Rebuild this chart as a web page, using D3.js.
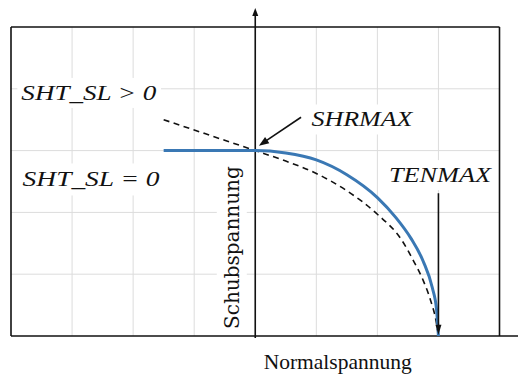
<!DOCTYPE html>
<html>
<head>
<meta charset="utf-8">
<script src="https://cdn.jsdelivr.net/npm/d3@7"></script>
<style>
  html, body { margin: 0; padding: 0; background: #fff; }
  svg { display: block; }
</style>
</head>
<body>
<svg id="chart" width="518" height="378"></svg>
<script>
// Grid divisions (normal stress on x, shear stress on y, arbitrary units)
const gridX = [-4, -3, -2, -1, 0, 1, 2, 3, 4];
const gridY = [0, 1, 2, 3, 4, 5];

// Failure surface with SHT_SL = 0 (flat shear plateau, then elliptic drop to TENMAX)
const flatX = [-1.5, 0, 0.5, 1.0, 1.5, 2.0, 2.3, 2.55, 2.75, 2.9, 2.97, 3.0];
const flatY = [3.0, 3.0, 2.96, 2.85, 2.61, 2.24, 1.92, 1.58, 1.21, 0.78, 0.42, 0];

// Failure surface with SHT_SL > 0 (shear strength rises under compression)
const slopeX = [-1.5, -0.75, 0, 0.5, 1.0, 1.5, 2.0, 2.4, 2.6, 2.75, 2.88, 2.96, 3.0];
const slopeY = [3.5, 3.25, 3.0, 2.83, 2.63, 2.35, 1.97, 1.55, 1.2, 0.9, 0.55, 0.25, 0];

// Annotation texts
const noteText = ["SHT_SL > 0", "SHT_SL = 0", "SHRMAX", "TENMAX"];
const xTitle = "Normalspannung";
const yTitle = "Schubspannung";

const svg = d3.select("#chart");
const W = 518, H = 378;

const x = d3.scaleLinear().domain([-4, 4]).range([11, 499.5]);
const y = d3.scaleLinear().domain([0, 5]).range([336, 27]);

svg.append("rect").attr("width", W).attr("height", H).attr("fill", "#fff");

// Grid
const grid = svg.append("g").attr("stroke", "#dcdcdc").attr("stroke-width", 1);
grid.selectAll("line.v").data(gridX.slice(1, -1)).join("line")
  .attr("class", "v")
  .attr("x1", d => x(d)).attr("x2", d => x(d))
  .attr("y1", y(5)).attr("y2", y(0));
grid.selectAll("line.h").data(gridY.slice(1, -1)).join("line")
  .attr("class", "h")
  .attr("x1", x(-4)).attr("x2", x(4))
  .attr("y1", d => y(d)).attr("y2", d => y(d));

// Text with an opaque white box behind it
function boxedText(parent, str, opts) {
  const g = parent.append("g").attr("transform", opts.transform || null);
  const rect = g.append("rect").attr("fill", "#fff");
  const t = g.append("text")
    .attr("x", opts.x).attr("y", opts.y)
    .attr("font-family", opts.family)
    .attr("font-style", opts.style || "normal")
    .attr("font-size", opts.size)
    .attr("text-anchor", opts.anchor || "start")
    .attr("fill", "#111")
    .text(str);
  if (opts.width) {
    t.attr("textLength", opts.width).attr("lengthAdjust", "spacingAndGlyphs");
  }
  const b = t.node().getBBox();
  const px = opts.padX ?? 3, py = opts.padY ?? 2;
  rect.attr("x", b.x - px).attr("y", b.y - py)
    .attr("width", b.width + 2 * px).attr("height", b.height + 2 * py);
  return g;
}

const mathFont = "'Liberation Serif', 'Times New Roman', serif";
const labels = svg.append("g");
boxedText(labels, noteText[0], { x: x(-3.83), y: y(3.82), family: mathFont, style: "italic", size: 21, width: 135, padX: 4, padY: 3 });
boxedText(labels, noteText[1], { x: x(-3.81), y: y(2.42), family: mathFont, style: "italic", size: 21, width: 137, padX: 4, padY: 4 });
boxedText(labels, noteText[2], { x: x(0.92), y: y(3.39), family: mathFont, style: "italic", size: 21, width: 101, padX: 4, padY: 3 });
boxedText(labels, noteText[3], { x: x(2.19), y: y(2.49), family: mathFont, style: "italic", size: 21, width: 102, padX: 4, padY: 3 });

// Axis titles
boxedText(labels, yTitle, {
  x: 0, y: 0, family: "'DejaVu Serif', serif", size: 20, anchor: "middle", padX: 4, padY: 3,
  transform: `translate(${x(-0.27)},${y(1.43)}) rotate(-90)`
});
svg.append("text")
  .attr("x", x(1.35)).attr("y", 369)
  .attr("text-anchor", "middle")
  .attr("font-family", "'Liberation Serif', 'Times New Roman', serif")
  .attr("font-size", 21.5)
  .attr("fill", "#111")
  .text(xTitle);

// Frame and axes
const frame = svg.append("g").attr("stroke", "#111").attr("stroke-width", 1.6).attr("fill", "none");
frame.append("line").attr("x1", x(-4)).attr("x2", x(4)).attr("y1", y(5)).attr("y2", y(5));
frame.append("line").attr("x1", x(-4)).attr("x2", x(-4)).attr("y1", y(5)).attr("y2", y(0));
frame.append("line").attr("x1", x(4)).attr("x2", x(4)).attr("y1", y(5)).attr("y2", y(0));
frame.append("line").attr("x1", x(-4)).attr("x2", W).attr("y1", y(0)).attr("y2", y(0));

// Arrow helper: line from tail to tip, filled triangular head at tip
function arrow(parent, x1, y1, x2, y2, len, half, sw) {
  const a = Math.atan2(y2 - y1, x2 - x1);
  const bx = x2 - len * Math.cos(a), by = y2 - len * Math.sin(a);
  parent.append("line")
    .attr("x1", x1).attr("y1", y1).attr("x2", bx + 2 * Math.cos(a)).attr("y2", by + 2 * Math.sin(a))
    .attr("stroke", "#111").attr("stroke-width", sw);
  const nx = -Math.sin(a) * half, ny = Math.cos(a) * half;
  parent.append("path")
    .attr("d", `M${x2},${y2}L${bx + nx},${by + ny}L${bx - nx},${by - ny}Z`)
    .attr("fill", "#111");
}

// Vertical (shear) axis with arrow
arrow(svg, x(0), y(0) + 2, x(0), 8, 8, 3, 1.6);

// Curves
const line = d3.line().x(d => x(d[0])).y(d => y(d[1])).curve(d3.curveMonotoneX);

svg.append("path")
  .datum(slopeX.map((v, i) => [v, slopeY[i]]))
  .attr("d", line)
  .attr("fill", "none")
  .attr("stroke", "#111")
  .attr("stroke-width", 1.6)
  .attr("stroke-dasharray", "6,4.5");

svg.append("path")
  .datum(flatX.map((v, i) => [v, flatY[i]]))
  .attr("d", line)
  .attr("fill", "none")
  .attr("stroke", "#3a78b4")
  .attr("stroke-width", 3);

// Annotation arrows
arrow(svg, x(0.75), y(3.54), x(0.06), y(3.08), 10, 3.8, 1.6);
arrow(svg, x(3.0), y(2.31), x(3.0), y(0.02), 10, 3, 1.6);
</script>
</body>
</html>
